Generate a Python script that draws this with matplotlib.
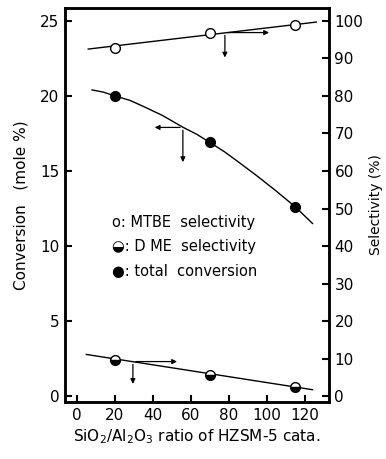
import matplotlib
matplotlib.use('Agg')
import matplotlib.pyplot as plt

# SiO2/Al2O3 ratio of the catalysts
ratio = [20, 70, 115]
mtbe_sel = [92.9, 96.7, 98.8]      # % (right axis)
dme_sel = [9.5, 5.7, 2.3]          # % (right axis)
total_conv = [20.0, 16.9, 12.6]    # mole % (left axis)

# trend lines
mtbe_line_x = [6, 126]
mtbe_line_y = [92.5, 99.7]
dme_line_x = [5, 124]
dme_line_y = [11.1, 1.7]
conv_line_x = [8, 14, 20, 28, 35, 45, 56, 63, 70, 78, 85, 95, 105, 115, 124]
conv_line_y = [20.4, 20.25, 20.0, 19.7, 19.3, 18.7, 17.9, 17.45, 16.9, 16.25,
               15.6, 14.65, 13.65, 12.6, 11.5]

plt.rcParams['font.family'] = 'DejaVu Sans'

fig = plt.figure(figsize=(3.86, 4.59), dpi=100)
ax = fig.add_axes([0.168, 0.124, 0.684, 0.859])
ax2 = ax.twinx()

ax.set_xlim(-6.3, 132.6)
ax.set_ylim(-0.4, 25.87)
ax2.set_ylim(-1.6, 103.5)

ax.plot(conv_line_x, conv_line_y, color='black', lw=1)
ax.plot(ratio, total_conv, 'o', color='black', ms=7)

ax2.plot(mtbe_line_x, mtbe_line_y, color='black', lw=1)
ax2.plot(ratio, mtbe_sel, 'o', mfc='white', mec='black', mew=1, ms=7)
ax2.plot(dme_line_x, dme_line_y, color='black', lw=1)
ax2.plot(ratio, dme_sel, 'o', color='black', fillstyle='bottom',
         markerfacecoloralt='white', mec='black', mew=1, ms=7)

# arrows telling which axis each curve belongs to
arr = dict(arrowstyle='-|>', color='black', lw=0.9, mutation_scale=7)
ax2.annotate('', xy=(102.6, 96.9), xytext=(77.9, 96.9), arrowprops=arr)
ax2.annotate('', xy=(77.9, 89.5), xytext=(77.9, 96.9), arrowprops=arr)
ax.annotate('', xy=(39.5, 17.9), xytext=(55.8, 17.9), arrowprops=arr)
ax.annotate('', xy=(55.8, 15.4), xytext=(55.8, 17.9), arrowprops=arr)
ax2.annotate('', xy=(54.2, 9.2), xytext=(29.5, 9.2), arrowprops=arr)
ax2.annotate('', xy=(29.5, 2.5), xytext=(29.5, 9.2), arrowprops=arr)

# legend written inside the plot
fx = 0.29
fig.text(fx, 1 - 222 / 459, 'o: MTBE  selectivity', fontsize=10.5, va='center')
fig.text(fx, 1 - 247 / 459, '\u25d2: D ME  selectivity', fontsize=10.5, va='center')
fig.text(fx, 1 - 271 / 459, '\u25cf: total  conversion', fontsize=10.5, va='center')

ax.set_xticks([0, 20, 40, 60, 80, 100, 120])
ax.set_yticks([0, 5, 10, 15, 20, 25])
ax2.set_yticks(range(0, 101, 10))
for a in (ax, ax2):
    a.tick_params(direction='in', length=5, width=1.5, labelsize=11, pad=4)
    for s in a.spines.values():
        s.set_linewidth(1.8)

ax.set_ylabel('Conversion   (mole %)', fontsize=11, labelpad=8)
ax2.set_ylabel('Selectivity (%)', fontsize=10, labelpad=4)
ax.set_xlabel('SiO$_2$/Al$_2$O$_3$ ratio of HZSM-5 cata.', fontsize=11, labelpad=3)

fig.savefig('out.png', dpi=100)
